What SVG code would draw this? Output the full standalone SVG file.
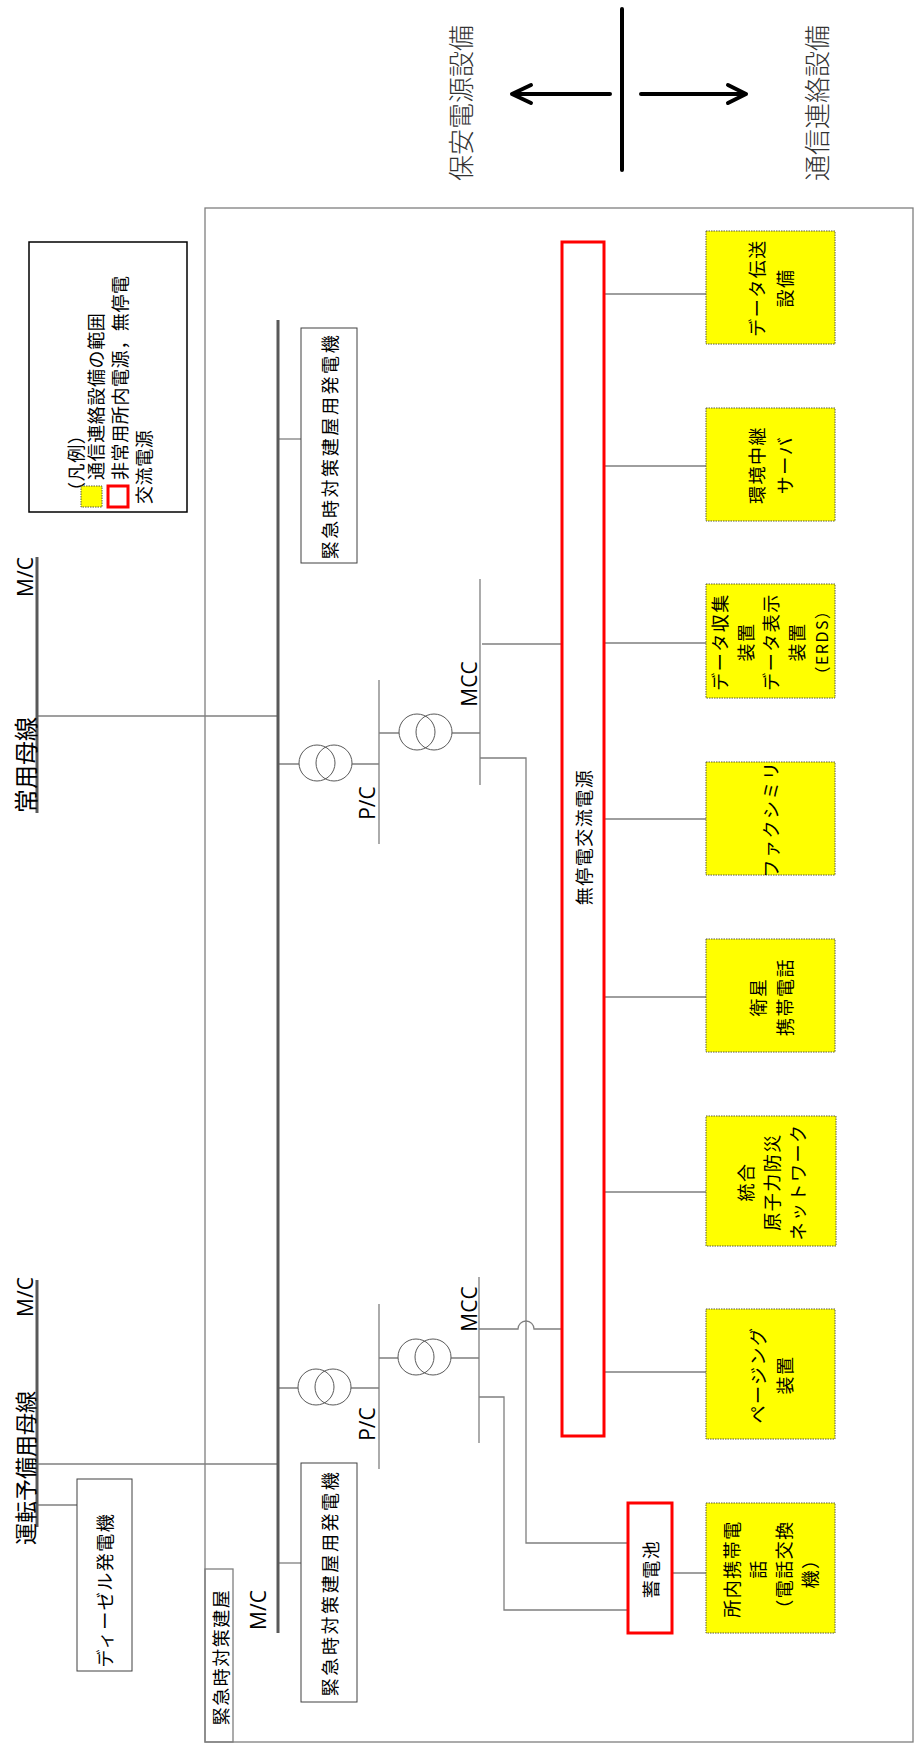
<svg xmlns="http://www.w3.org/2000/svg" width="914" height="1744" viewBox="0 0 914 1744">
<style>
.bus{stroke:#595959;stroke-width:3;fill:none}
.ln{stroke:#7f7f7f;stroke-width:1.3;fill:none}
.box{fill:#fff;stroke:#404040;stroke-width:1}
.yel{fill:#ffff00;stroke:#5a5a3a;stroke-width:1;stroke-dasharray:1.5 1}
.red{fill:#fff;stroke:#ff0000;stroke-width:3}
.tr{fill:none;stroke:#595959;stroke-width:1}
.tx{font-family:"Noto Sans CJK JP","Noto Sans",sans-serif;font-size:18px;fill:#000;dominant-baseline:central;text-anchor:middle;letter-spacing:1.5px}
.wide{letter-spacing:2.6px}
.ts{font-family:"Noto Sans CJK JP","Noto Sans",sans-serif;font-size:18px;fill:#000;dominant-baseline:central;text-anchor:start;letter-spacing:0.6px}
.lat{font-family:"Open Sans","Noto Sans",sans-serif;font-size:21px;fill:#000;dominant-baseline:central;text-anchor:middle}
.big{font-family:"Noto Sans CJK JP",sans-serif;font-size:26px;fill:#333;dominant-baseline:central;text-anchor:middle;font-weight:300}
.arr{stroke:#000;stroke-width:4;fill:none;stroke-linecap:round;stroke-linejoin:round}
</style>

<g id="header">
  <path class="arr" d="M622 9 V170"/>
  <path class="arr" d="M610 94 H512 M531 85 L512 94 L531 103"/>
  <path class="arr" d="M641 94 H746 M728 85 L746 94 L728 103"/>
  <text class="big" transform="translate(459,103) rotate(-90)">保安電源設備</text>
  <text class="big" transform="translate(815,103) rotate(-90)">通信連絡設備</text>
</g>

<g id="frame">
  <rect x="205" y="208" width="708" height="1534" fill="none" stroke="#7f7f7f" stroke-width="1.3"/>
</g>

<g id="building-label">
  <rect x="205" y="1569" width="28" height="173" fill="none" stroke="#7f7f7f" stroke-width="1.3"/>
  <text class="tx" transform="translate(220,1657) rotate(-90)">緊急時対策建屋</text>
</g>

<g id="legend">
  <rect x="29" y="242" width="158" height="270" fill="#fff" stroke="#000" stroke-width="1.5"/>
  <text class="ts" transform="translate(75,500) rotate(-90)">（凡例）</text>
  <rect x="81" y="486" width="21" height="21" class="yel"/>
  <rect x="108" y="486" width="20" height="21" class="red"/>
  <text class="ts" transform="translate(95,480) rotate(-90)">通信連絡設備の範囲</text>
  <text class="ts" transform="translate(119,480) rotate(-90)">非常用所内電源，無停電</text>
  <text class="ts" transform="translate(143,504) rotate(-90)">交流電源</text>
</g>

<g id="connectors">
  <path class="ln" d="M37 716 H278"/>
  <path class="ln" d="M37 1464 H278"/>
  <path class="ln" d="M37 1505 H77"/>
  <path class="ln" d="M278 439 H301"/>
  <path class="ln" d="M278 1563 H301"/>
  <path class="ln" d="M278 764 H299 M352 764 H379"/>
  <path class="ln" d="M379 733 H399 M452 733 H480"/>
  <path class="ln" d="M278 1388 H298 M351 1388 H379"/>
  <path class="ln" d="M379 1358 H398 M451 1358 H479"/>
  <path class="ln" d="M482 644 H562"/>
  <path class="ln" d="M480 758 H526 V1543 H628"/>
  <path class="ln" d="M479 1329 H518 A8 8 0 0 1 534 1329 H562"/>
  <path class="ln" d="M479 1397 H504 V1610 H628"/>
  <path class="ln" d="M604 294 H706 M604 466 H706 M604 643 H706 M604 819 H706 M604 997 H706 M604 1192 H706 M604 1372 H706"/>
  <path class="ln" d="M672 1573 H706"/>
</g>

<g id="bus-normal">
  <path class="bus" d="M37 557 V813"/>
  <text class="lat" transform="translate(25,577) rotate(-90)">M/C</text>
  <text class="big" style="fill:#000;font-weight:400;font-size:24px;text-anchor:start" transform="translate(24,813) rotate(-90)">常用母線</text>
</g>

<g id="bus-standby">
  <path class="bus" d="M37 1280 V1527"/>
  <text class="lat" transform="translate(25,1297) rotate(-90)">M/C</text>
  <text class="big" style="fill:#000;font-weight:400;font-size:22px;text-anchor:start" transform="translate(24,1545) rotate(-90)">運転予備用母線</text>
</g>

<g id="diesel">
  <rect class="box" x="77" y="1479" width="55" height="192"/>
  <text class="tx" transform="translate(104,1590) rotate(-90)">ディーゼル発電機</text>
</g>

<g id="bus-emergency">
  <path class="bus" d="M278 320 V1633"/>
  <text class="lat" transform="translate(258,1610) rotate(-90)">M/C</text>
</g>

<g id="gen-upper">
  <rect class="box" x="301" y="328" width="56" height="235"/>
  <text class="tx wide" transform="translate(329,446) rotate(-90)">緊急時対策建屋用発電機</text>
</g>

<g id="gen-lower">
  <rect class="box" x="301" y="1463" width="56" height="239"/>
  <text class="tx wide" transform="translate(329,1583) rotate(-90)">緊急時対策建屋用発電機</text>
</g>

<g id="pc-upper">
  <circle class="tr" cx="317" cy="763" r="18"/>
  <circle class="tr" cx="334" cy="763" r="18"/>
  <path class="ln" d="M379 680 V844"/>
  <text class="lat" transform="translate(367,803) rotate(-90)">P/C</text>
</g>

<g id="mcc-upper">
  <circle class="tr" cx="417" cy="732" r="18"/>
  <circle class="tr" cx="434" cy="732" r="18"/>
  <path class="ln" d="M480 579 V785"/>
  <text class="lat" transform="translate(469,684) rotate(-90)">MCC</text>
</g>

<g id="pc-lower">
  <circle class="tr" cx="316" cy="1387" r="18"/>
  <circle class="tr" cx="333" cy="1387" r="18"/>
  <path class="ln" d="M379 1304 V1469"/>
  <text class="lat" transform="translate(367,1424) rotate(-90)">P/C</text>
</g>

<g id="mcc-lower">
  <circle class="tr" cx="416" cy="1357" r="18"/>
  <circle class="tr" cx="433" cy="1357" r="18"/>
  <path class="ln" d="M479 1277 V1443"/>
  <text class="lat" transform="translate(469,1309) rotate(-90)">MCC</text>
</g>

<g id="ups">
  <rect class="red" x="562" y="242" width="42" height="1194"/>
  <text class="tx" transform="translate(583,837) rotate(-90)">無停電交流電源</text>
</g>

<g id="battery">
  <rect class="red" x="628" y="1503" width="44" height="130"/>
  <text class="tx" transform="translate(650,1569) rotate(-90)">蓄電池</text>
</g>

<g id="eq-data-transfer">
  <rect class="yel" x="706" y="231" width="129" height="113"/>
  <text class="tx" transform="translate(770,288) rotate(-90)"><tspan x="0" y="-14">データ伝送</tspan><tspan x="0" y="14">設備</tspan></text>
</g>

<g id="eq-env-server">
  <rect class="yel" x="706" y="408" width="129" height="113"/>
  <text class="tx" transform="translate(770,465) rotate(-90)"><tspan x="0" y="-14">環境中継</tspan><tspan x="0" y="14">サーバ</tspan></text>
</g>

<g id="eq-erds">
  <rect class="yel" x="706" y="584" width="129" height="114"/>
  <text class="tx" transform="translate(770,642) rotate(-90)"><tspan x="0" y="-51">データ収集</tspan><tspan x="0" y="-25.5">装置</tspan><tspan x="0" y="0">データ表示</tspan><tspan x="0" y="25.5">装置</tspan><tspan x="0" y="51" style="font-size:16px">（ERDS）</tspan></text>
</g>

<g id="eq-fax">
  <rect class="yel" x="706" y="762" width="129" height="113"/>
  <text class="tx" transform="translate(770,819) rotate(-90)">ファクシミリ</text>
</g>

<g id="eq-satphone">
  <rect class="yel" x="706" y="939" width="129" height="113"/>
  <text class="tx" transform="translate(770,997) rotate(-90)"><tspan x="0" y="-13.5">衛星</tspan><tspan x="0" y="13.5">携帯電話</tspan></text>
</g>

<g id="eq-network">
  <rect class="yel" x="706" y="1116" width="130" height="130"/>
  <text class="tx" transform="translate(771,1182) rotate(-90)"><tspan x="0" y="-26">統合</tspan><tspan x="0" y="0">原子力防災</tspan><tspan x="0" y="26">ネットワーク</tspan></text>
</g>

<g id="eq-paging">
  <rect class="yel" x="706" y="1309" width="129" height="130"/>
  <text class="tx" transform="translate(770,1375) rotate(-90)"><tspan x="0" y="-13.5">ページング</tspan><tspan x="0" y="13.5">装置</tspan></text>
</g>

<g id="eq-phone">
  <rect class="yel" x="706" y="1503" width="129" height="130"/>
  <text class="tx" transform="translate(770,1569) rotate(-90)"><tspan x="0" y="-39">所内携帯電</tspan><tspan x="0" y="-13">話</tspan><tspan x="0" y="13">（電話交換</tspan><tspan x="0" y="39">機）</tspan></text>
</g>
</svg>
